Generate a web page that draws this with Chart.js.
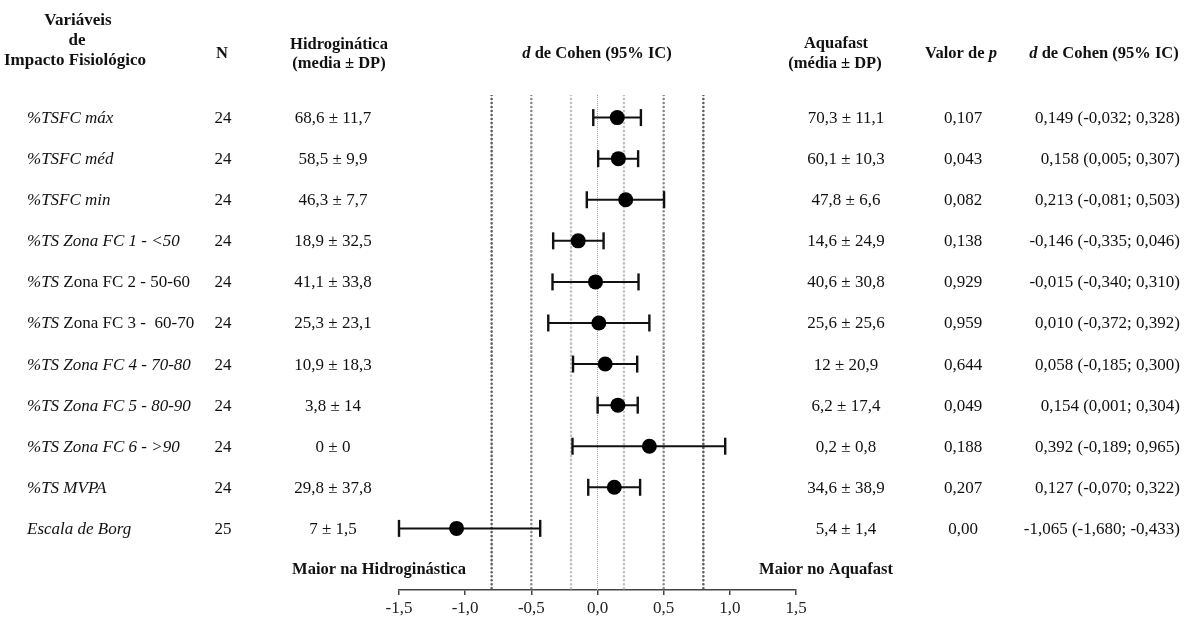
<!DOCTYPE html>
<html><head><meta charset="utf-8">
<script src="https://cdn.jsdelivr.net/npm/chart.js@4.4.1/dist/chart.umd.min.js"></script>
<style>html,body{margin:0;padding:0;background:#fff;}#wrap{width:1184px;height:617px;position:relative;}</style>
</head><body><div id="wrap"><canvas id="c" width="1184" height="617"></canvas></div>
<script>
// ---------- DATA ----------
const varItalic = ['%TSFC máx','%TSFC méd','%TSFC min','%TS Zona FC 1 - <50','%TS','%TS','%TS Zona FC 4 - 70-80','%TS Zona FC 5 - 80-90','%TS Zona FC 6 - >90','%TS MVPA','Escala de Borg'];
const varRoman  = ['','','','',' Zona FC 2 - 50-60',' Zona FC 3 -  60-70','','','','',''];
const nValues   = [24,24,24,24,24,24,24,24,24,24,25];
const hidroMean = [68.6,58.5,46.3,18.9,41.1,25.3,10.9,3.8,0,29.8,7];
const hidroSD   = [11.7,9.9,7.7,32.5,33.8,23.1,18.3,14,0,37.8,1.5];
const aquaMean  = [70.3,60.1,47.8,14.6,40.6,25.6,12,6.2,0.2,34.6,5.4];
const aquaSD    = [11.1,10.3,6.6,24.9,30.8,25.6,20.9,17.4,0.8,38.9,1.4];
const pValues   = ['0,107','0,043','0,082','0,138','0,929','0,959','0,644','0,049','0,188','0,207','0,00'];
const cohenD    = [0.149,0.158,0.213,-0.146,-0.015,0.010,0.058,0.154,0.392,0.127,-1.065];
const ciLow     = [-0.032,0.005,-0.081,-0.335,-0.340,-0.372,-0.185,0.001,-0.189,-0.070,-1.680];
const ciHigh    = [0.328,0.307,0.503,0.046,0.310,0.392,0.300,0.304,0.965,0.322,-0.433];
const refLines  = [-0.8,-0.5,-0.2,0,0.2,0.5,0.8];
const xTickMin = -1.5, xTickMax = 1.5, xTickStep = 0.5;

// ---------- HELPERS ----------
const SERIF = '"Liberation Serif","Times New Roman",Times,serif';
const f = (style, weight, size) => `${style} ${weight} ${size}px ${SERIF}`;
const comma = v => String(v).replace('.', ',');
const fmt3 = v => v.toFixed(3).replace('.', ',');
const yMin = -0.55, yMax = 11.5;

function drawMixed(ctx, parts, x, y, align) {
  let total = 0;
  parts.forEach(p => { ctx.font = p[1]; total += ctx.measureText(p[0]).width; });
  let cx = align === 'center' ? x - total / 2 : (align === 'right' ? x - total : x);
  ctx.textAlign = 'left';
  parts.forEach(p => { ctx.font = p[1]; ctx.fillText(p[0], cx, y); cx += ctx.measureText(p[0]).width; });
}

const tablePlugin = {
  id: 'tableText',
  afterDraw(chart) {
    const ctx = chart.ctx, ys = chart.scales.y;
    ctx.save();
    ctx.fillStyle = '#111';
    ctx.textBaseline = 'middle';
    const HB = f('normal', 'bold', 16.5), HBI = f('italic', 'bold', 16.5);
    ctx.font = f('normal', 'bold', 17); ctx.textAlign = 'center';
    ctx.fillText('Variáveis', 78, 21);
    ctx.fillText('de', 77, 41);
    ctx.fillText('Impacto Fisiológico', 75, 61);
    ctx.font = HB;
    ctx.fillText('N', 222, 54);
    ctx.fillText('Hidroginática', 339, 45);
    ctx.fillText('(media ± DP)', 339, 64);
    ctx.fillText('Aquafast', 836, 44);
    ctx.fillText('(média ± DP)', 835, 64);
    drawMixed(ctx, [['d', HBI], [' de Cohen (95% IC)', HB]], 597, 54, 'center');
    drawMixed(ctx, [['Valor de ', HB], ['p', HBI]], 961, 54, 'center');
    drawMixed(ctx, [['d', HBI], [' de Cohen (95% IC)', HB]], 1104, 54, 'center');

    const R = f('normal', 'normal', 17), I = f('italic', 'normal', 17);
    for (let i = 0; i < varItalic.length; i++) {
      const py = ys.getPixelForValue(i) + 1;
      drawMixed(ctx, [[varItalic[i], I], [varRoman[i], R]], 27, py, 'left');
      ctx.font = R; ctx.textAlign = 'center';
      ctx.fillText(String(nValues[i]), 223, py);
      ctx.fillText(comma(hidroMean[i]) + ' ± ' + comma(hidroSD[i]), 333, py);
      ctx.fillText(comma(aquaMean[i]) + ' ± ' + comma(aquaSD[i]), 846, py);
      ctx.fillText(pValues[i], 963, py);
      ctx.textAlign = 'right';
      ctx.fillText(fmt3(cohenD[i]) + ' (' + fmt3(ciLow[i]) + '; ' + fmt3(ciHigh[i]) + ')', 1180, py);
    }
    const fy = ys.getPixelForValue(varItalic.length);
    ctx.font = HB; ctx.textAlign = 'center';
    ctx.fillText('Maior na Hidroginástica', 379, fy);
    ctx.fillText('Maior no Aquafast', 826, fy);
    ctx.restore();
  }
};

// ---------- DATASETS ----------
const refStyle = v => {
  const a = Math.abs(v);
  if (a === 0) return { c: '#a0a0a0', w: 1, d: [1, 1], cap: 'butt' };
  if (a < 0.3) return { c: '#c0c0c0', w: 2.6, d: [0.01, 4], cap: 'round' };
  if (a < 0.6) return { c: '#8a8a8a', w: 2.6, d: [0.01, 4], cap: 'round' };
  return { c: '#5c5c5c', w: 2.6, d: [0.01, 4], cap: 'round' };
};
const datasets = [];
datasets.push({
  data: cohenD.map((v, i) => ({ x: v, y: i })),
  backgroundColor: '#000', borderColor: '#000', pointRadius: 7.5, borderWidth: 0,
  order: 0, clip: false
});
cohenD.forEach((v, i) => {
  datasets.push({
    data: [{ x: Math.max(ciLow[i], xTickMin), y: i }, { x: ciHigh[i], y: i }],
    showLine: true, borderColor: '#111', borderWidth: 2,
    pointStyle: 'line', pointRotation: 90, pointRadius: 8.5,
    pointBorderWidth: 2.4, pointBorderColor: '#111', order: 1, clip: false
  });
});
refLines.forEach(v => {
  const s = refStyle(v);
  datasets.push({
    data: [{ x: v, y: yMin }, { x: v, y: yMax }],
    showLine: true, borderColor: s.c, borderWidth: s.w, borderDash: s.d,
    borderCapStyle: s.cap, pointRadius: 0, order: 2
  });
});

new Chart(document.getElementById('c'), {
  type: 'scatter',
  data: { datasets },
  options: {
    responsive: false, animation: false, events: [],
    devicePixelRatio: 1,
    layout: { padding: { left: 399, right: 388, top: 95, bottom: 0 } },
    plugins: { legend: { display: false }, tooltip: { enabled: false } },
    scales: {
      x: {
        type: 'linear', min: xTickMin, max: xTickMax,
        ticks: {
          stepSize: xTickStep, color: '#222', padding: 3,
          font: { family: SERIF, size: 17 },
          callback: v => Math.abs(v) < 1e-9 ? '0,0' : v.toFixed(1).replace('.', ',')
        },
        grid: { drawOnChartArea: false, drawTicks: true, tickLength: 5, color: '#444', lineWidth: 1.5 },
        border: { display: true, color: '#444', width: 1.5 },
        afterFit: s => { s.height = 27; }
      },
      y: { type: 'linear', min: yMin, max: yMax, reverse: true, display: false }
    }
  },
  plugins: [tablePlugin]
});
</script>
</body></html>
